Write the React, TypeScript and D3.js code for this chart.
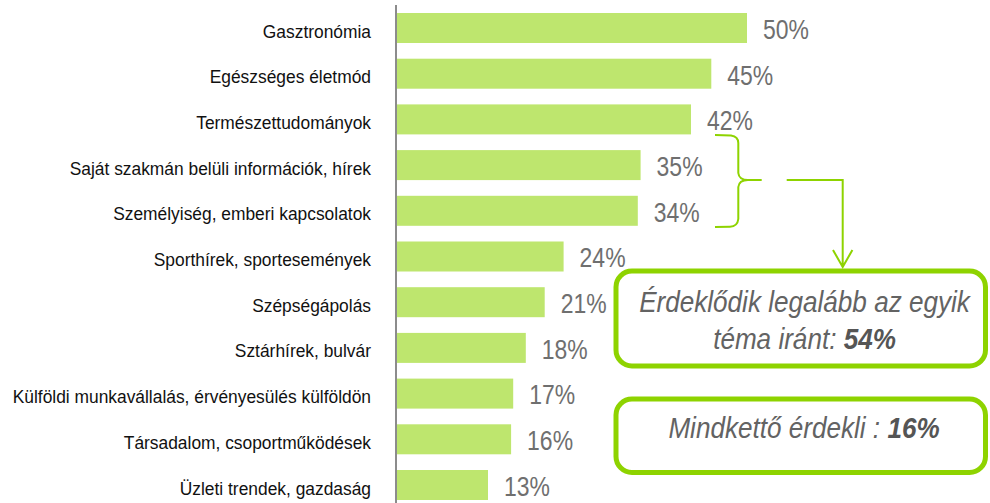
import React from "react";
import * as d3 from "d3";

const categories = [
  "Gasztronómia",
  "Egészséges életmód",
  "Természettudományok",
  "Saját szakmán belüli információk, hírek",
  "Személyiség, emberi kapcsolatok",
  "Sporthírek, sportesemények",
  "Szépségápolás",
  "Sztárhírek, bulvár",
  "Külföldi munkavállalás, érvényesülés külföldön",
  "Társadalom, csoportműködések",
  "Üzleti trendek, gazdaság",
];
const values = [50, 44.9, 42, 34.8, 34.4, 23.8, 21.1, 18.4, 16.6, 16.3, 13];
const valueLabels = ["50%", "45%", "42%", "35%", "34%", "24%", "21%", "18%", "17%", "16%", "13%"];

const box1Lines = ["Érdeklődik legalább az egyik", "téma iránt: "];
const box1Value = "54%";
const box2Text = "Mindkettő érdekli : ";
const box2Value = "16%";

const W = 990;
const H = 503;
const FONT = "'Liberation Sans', Arial, sans-serif";
const BAR = "#BEE66E";
const GREEN = "#8ED300";

export default function App() {
  const step = 45.7;
  const p = 15.7 / 45.7;
  const r0 = 13 - (step * p) / 2;
  const y = d3
    .scaleBand<string>()
    .domain(categories)
    .range([r0, r0 + step * categories.length])
    .paddingInner(p)
    .paddingOuter(p / 2);
  const x = d3.scaleLinear().domain([0, 50]).range([397, 747]);
  const bw = y.bandwidth();

  const bracket = d3.path();
  bracket.moveTo(715, 135);
  bracket.lineTo(731, 135.5);
  bracket.quadraticCurveTo(738.3, 136.5, 738.3, 143);
  bracket.lineTo(738.3, 173);
  bracket.quadraticCurveTo(739, 180, 748, 180);
  bracket.lineTo(761.7, 180);
  bracket.moveTo(748, 180);
  bracket.quadraticCurveTo(739, 180, 738.3, 187);
  bracket.lineTo(738.3, 219);
  bracket.quadraticCurveTo(737.5, 226.5, 730, 226.7);
  bracket.lineTo(715, 227);

  const arrow = d3.path();
  arrow.moveTo(786.7, 180);
  arrow.lineTo(842.7, 180);
  arrow.lineTo(842.7, 267);
  arrow.moveTo(833, 250);
  arrow.lineTo(842.7, 267);
  arrow.lineTo(852.4, 250);

  return (
    <svg
      width={W}
      height={H}
      style={{ position: "absolute", left: 0, top: 0, background: "#fff" }}
      fontFamily={FONT}
    >
      <rect x={0} y={0} width={W} height={H} fill="#fff" />
      {categories.map((c, i) => {
        const yy = y(c)!;
        return (
          <g key={c}>
            <rect x={x(0)} y={yy} width={x(values[i]) - x(0)} height={bw} fill={BAR} />
            <g transform={`translate(371,${yy + bw / 2 + 9.5}) scale(0.94,1)`}>
              <text textAnchor="end" fontSize={18.5} fill="#111">
                {c}
              </text>
            </g>
            <g transform={`translate(${x(values[i]) + 16},${yy + bw / 2 + 10.8}) scale(0.82,1)`}>
              <text fontSize={28} fill="#6f6f6f">
                {valueLabels[i]}
              </text>
            </g>
          </g>
        );
      })}
      <line x1={396} x2={396} y1={5} y2={503} stroke="#8c8c8c" strokeWidth={2} />

      <path d={bracket.toString()} fill="none" stroke={GREEN} strokeWidth={2} />
      <path d={arrow.toString()} fill="none" stroke={GREEN} strokeWidth={2} />

      <rect x={616} y={271} width={369.5} height={95} rx={16} ry={16} fill="#fff" stroke={GREEN} strokeWidth={5} />
      <rect x={616} y={399} width={369.5} height={73.5} rx={16} ry={16} fill="#fff" stroke={GREEN} strokeWidth={5} />

      <g transform="translate(804.5,311.5) scale(0.87,1)">
        <text textAnchor="middle" fontSize={30} fontStyle="italic" fill="#636363">
          {box1Lines[0]}
        </text>
      </g>
      <g transform="translate(804.5,349.3) scale(0.87,1)">
        <text textAnchor="middle" fontSize={30} fontStyle="italic" fill="#636363">
          {box1Lines[1]}
          <tspan fontWeight="bold" fill="#555">{box1Value}</tspan>
        </text>
      </g>
      <g transform="translate(804,438.3) scale(0.87,1)">
        <text textAnchor="middle" fontSize={30} fontStyle="italic" fill="#636363">
          {box2Text}
          <tspan fontWeight="bold" fill="#555">{box2Value}</tspan>
        </text>
      </g>
    </svg>
  );
}
